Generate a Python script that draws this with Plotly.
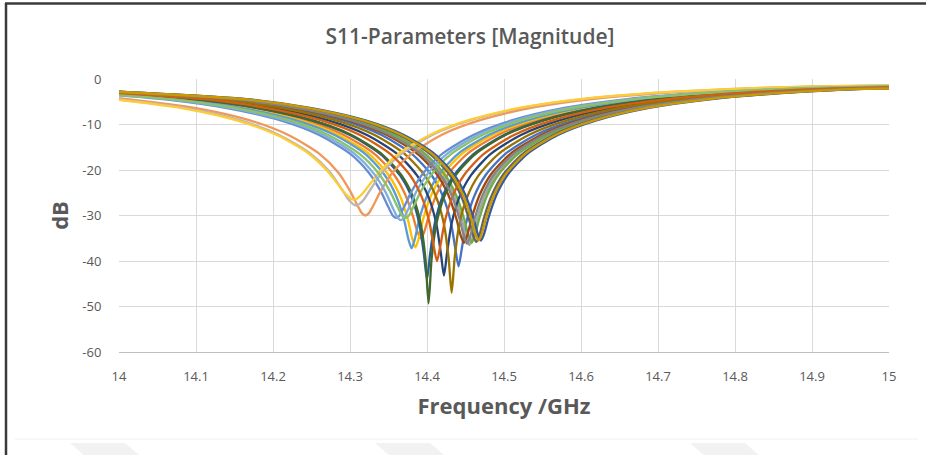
import plotly.graph_objects as go

# ---------------- data (frequency in GHz, S11 in dB) ----------------
f_01 = [14.0, 14.141, 14.221, 14.291, 14.341, 14.381, 14.406, 14.421, 14.431, 14.437, 14.441, 14.445, 14.451, 14.461, 14.476, 14.501, 14.541, 14.591, 14.661, 14.741, 14.841, 14.941, 15.0]
db_01 = [-2.95, -4.5, -6.4, -9.1, -12.3, -16.55, -21.15, -25.9, -31.5, -37.5, -41.2, -37.5, -31.5, -25.9, -21.15, -16.55, -12.3, -9.1, -6.3, -4.4, -3.0, -2.15, -1.95]

f_02 = [14.0, 14.092, 14.172, 14.242, 14.292, 14.332, 14.357, 14.372, 14.382, 14.388, 14.392, 14.396, 14.402, 14.412, 14.427, 14.452, 14.492, 14.542, 14.612, 14.692, 14.792, 14.892, 15.0]
db_02 = [-3.3, -4.5, -6.4, -9.1, -12.3, -16.5, -21.0, -25.5, -30.3, -33.8, -35.0, -33.8, -30.3, -25.5, -21.0, -16.5, -12.3, -9.1, -6.3, -4.4, -3.0, -2.15, -1.6]

f_03 = [14.0, 14.155, 14.235, 14.305, 14.355, 14.395, 14.42, 14.435, 14.445, 14.451, 14.455, 14.459, 14.465, 14.475, 14.49, 14.515, 14.555, 14.605, 14.675, 14.755, 14.855, 14.955, 15.0]
db_03 = [-2.85, -4.5, -6.4, -9.1, -12.3, -16.5, -21.05, -25.65, -30.7, -34.8, -36.5, -34.8, -30.7, -25.65, -21.05, -16.5, -12.3, -9.1, -6.3, -4.4, -3.0, -2.15, -2.0]

f_04 = [14.0, 14.085, 14.165, 14.235, 14.285, 14.325, 14.35, 14.365, 14.375, 14.381, 14.385, 14.389, 14.395, 14.405, 14.42, 14.445, 14.485, 14.535, 14.605, 14.685, 14.785, 14.885, 15.0]
db_04 = [-3.35, -4.5, -6.4, -9.1, -12.3, -16.5, -21.1, -25.7, -30.8, -35.2, -37.0, -35.2, -30.8, -25.7, -21.1, -16.5, -12.3, -9.1, -6.3, -4.4, -3.0, -2.15, -1.6]

f_05 = [14.0, 14.08, 14.16, 14.23, 14.28, 14.32, 14.345, 14.36, 14.37, 14.376, 14.38, 14.384, 14.39, 14.4, 14.415, 14.44, 14.48, 14.53, 14.6, 14.68, 14.78, 14.88, 15.0]
db_05 = [-3.4, -4.5, -6.4, -9.1, -12.3, -16.5, -21.1, -25.7, -30.8, -35.3, -37.2, -35.3, -30.8, -25.7, -21.1, -16.5, -12.3, -9.1, -6.3, -4.4, -3.0, -2.15, -1.6]

f_06 = [14.0, 14.158, 14.238, 14.308, 14.358, 14.398, 14.423, 14.438, 14.448, 14.454, 14.458, 14.462, 14.468, 14.478, 14.493, 14.518, 14.558, 14.608, 14.678, 14.758, 14.858, 14.958, 15.0]
db_06 = [-2.85, -4.5, -6.4, -9.1, -12.3, -16.5, -21.0, -25.6, -30.6, -34.5, -36.0, -34.5, -30.6, -25.6, -21.0, -16.5, -12.3, -9.1, -6.3, -4.4, -3.0, -2.15, -2.05]

f_07 = [14.0, 14.122, 14.202, 14.272, 14.322, 14.362, 14.387, 14.402, 14.412, 14.418, 14.422, 14.426, 14.432, 14.442, 14.457, 14.482, 14.522, 14.572, 14.642, 14.722, 14.822, 14.922, 15.0]
db_07 = [-3.05, -4.5, -6.4, -9.1, -12.3, -16.55, -21.2, -25.95, -31.7, -38.3, -43.2, -38.3, -31.7, -25.95, -21.2, -16.55, -12.3, -9.1, -6.3, -4.4, -3.0, -2.15, -1.85]

f_08 = [14.0, 14.148, 14.228, 14.298, 14.348, 14.388, 14.413, 14.428, 14.438, 14.444, 14.448, 14.452, 14.458, 14.468, 14.483, 14.508, 14.548, 14.598, 14.668, 14.748, 14.848, 14.948, 15.0]
db_08 = [-2.9, -4.5, -6.4, -9.1, -12.3, -16.5, -21.0, -25.6, -30.6, -34.5, -36.0, -34.5, -30.6, -25.6, -21.0, -16.5, -12.3, -9.1, -6.3, -4.4, -3.0, -2.15, -1.95]

f_09 = [14.0, 14.164, 14.244, 14.314, 14.364, 14.404, 14.429, 14.444, 14.454, 14.46, 14.464, 14.468, 14.474, 14.484, 14.499, 14.524, 14.564, 14.614, 14.684, 14.764, 14.864, 14.964, 15.0]
db_09 = [-2.8, -4.5, -6.4, -9.1, -12.3, -16.5, -21.0, -25.6, -30.5, -34.4, -35.8, -34.4, -30.5, -25.6, -21.0, -16.5, -12.3, -9.1, -6.3, -4.4, -3.0, -2.15, -2.05]

f_10 = [14.0, 14.132, 14.212, 14.282, 14.332, 14.372, 14.397, 14.412, 14.422, 14.428, 14.432, 14.436, 14.442, 14.452, 14.467, 14.492, 14.532, 14.582, 14.652, 14.732, 14.832, 14.932, 15.0]
db_10 = [-3.0, -4.5, -6.4, -9.1, -12.3, -16.6, -21.2, -26.0, -31.9, -39.2, -47.0, -39.2, -31.9, -26.0, -21.2, -16.6, -12.3, -9.1, -6.3, -4.4, -3.0, -2.15, -1.9]

f_11 = [14.0, 14.1, 14.18, 14.25, 14.3, 14.34, 14.365, 14.38, 14.39, 14.396, 14.4, 14.404, 14.41, 14.42, 14.435, 14.46, 14.5, 14.55, 14.62, 14.7, 14.8, 14.9, 15.0]
db_11 = [-3.2, -4.5, -6.4, -9.1, -12.3, -16.55, -21.2, -25.95, -31.8, -38.5, -44.0, -38.5, -31.8, -25.95, -21.2, -16.55, -12.3, -9.1, -6.3, -4.4, -3.0, -2.15, -1.75]

f_12 = [14.0, 14.102, 14.182, 14.252, 14.302, 14.342, 14.367, 14.382, 14.392, 14.398, 14.402, 14.406, 14.412, 14.422, 14.437, 14.462, 14.502, 14.552, 14.622, 14.702, 14.802, 14.902, 15.0]
db_12 = [-3.2, -4.5, -6.4, -9.1, -12.3, -16.6, -21.2, -26.0, -32.0, -39.5, -49.3, -39.5, -32.0, -26.0, -21.2, -16.6, -12.3, -9.1, -6.3, -4.4, -3.0, -2.15, -1.75]

f_13 = [14.0, 14.06, 14.14, 14.21, 14.26, 14.3, 14.325, 14.34, 14.35, 14.356, 14.36, 14.364, 14.37, 14.38, 14.395, 14.42, 14.46, 14.51, 14.58, 14.66, 14.76, 14.86, 15.0]
db_13 = [-3.6, -4.5, -6.4, -9.1, -12.3, -16.4, -20.7, -24.7, -28.2, -30.1, -30.5, -30.1, -28.2, -24.7, -20.7, -16.4, -12.3, -9.1, -6.3, -4.4, -3.0, -2.15, -1.55]

f_14 = [14.0, 14.1, 14.17, 14.22, 14.26, 14.285, 14.3, 14.31, 14.316, 14.32, 14.324, 14.33, 14.34, 14.355, 14.38, 14.42, 14.47, 14.54, 14.62, 14.72, 14.82, 14.92, 15.0]
db_14 = [-4.2, -6.4, -9.1, -12.3, -16.4, -20.6, -24.6, -27.9, -29.6, -30.0, -29.6, -27.9, -24.6, -20.6, -16.4, -12.2, -9.0, -6.2, -4.3, -2.95, -2.1, -1.6, -1.5]

f_15 = [14.0, 14.088, 14.158, 14.208, 14.248, 14.273, 14.288, 14.298, 14.304, 14.308, 14.312, 14.318, 14.328, 14.343, 14.368, 14.408, 14.458, 14.528, 14.608, 14.708, 14.808, 14.908, 15.0]
db_15 = [-4.5, -6.4, -9.1, -12.3, -16.3, -20.3, -23.9, -26.5, -27.5, -27.8, -27.5, -26.5, -23.9, -20.3, -16.3, -12.2, -9.0, -6.2, -4.3, -2.95, -2.1, -1.6, -1.42]

f_16 = [14.0, 14.085, 14.155, 14.205, 14.245, 14.27, 14.285, 14.295, 14.301, 14.305, 14.309, 14.315, 14.325, 14.34, 14.365, 14.405, 14.455, 14.525, 14.605, 14.705, 14.805, 14.905, 15.0]
db_16 = [-4.6, -6.5, -9.2, -12.3, -16.2, -20.1, -23.3, -25.4, -26.3, -26.5, -26.3, -25.4, -23.3, -20.1, -16.2, -12.2, -9.0, -6.2, -4.3, -2.95, -2.1, -1.6, -1.4]

f_17 = [14.0, 14.066, 14.146, 14.216, 14.266, 14.306, 14.331, 14.346, 14.356, 14.362, 14.366, 14.37, 14.376, 14.386, 14.401, 14.426, 14.466, 14.516, 14.586, 14.666, 14.766, 14.866, 15.0]
db_17 = [-3.55, -4.5, -6.4, -9.1, -12.3, -16.45, -20.8, -24.8, -28.5, -30.5, -31.0, -30.5, -28.5, -24.8, -20.8, -16.45, -12.3, -9.1, -6.3, -4.4, -3.0, -2.15, -1.58]

f_18 = [14.0, 14.072, 14.152, 14.222, 14.272, 14.312, 14.337, 14.352, 14.362, 14.368, 14.372, 14.376, 14.382, 14.392, 14.407, 14.432, 14.472, 14.522, 14.592, 14.672, 14.772, 14.872, 15.0]
db_18 = [-3.5, -4.5, -6.4, -9.1, -12.3, -16.4, -20.7, -24.7, -28.2, -30.1, -30.5, -30.1, -28.2, -24.7, -20.7, -16.4, -12.3, -9.1, -6.3, -4.4, -3.0, -2.15, -1.6]

f_19 = [14.0, 14.17, 14.25, 14.32, 14.37, 14.41, 14.435, 14.45, 14.46, 14.466, 14.47, 14.474, 14.48, 14.49, 14.505, 14.53, 14.57, 14.62, 14.69, 14.77, 14.87, 14.97, 15.0]
db_19 = [-2.8, -4.5, -6.4, -9.1, -12.3, -16.5, -21.0, -25.55, -30.4, -34.1, -35.5, -34.1, -30.4, -25.55, -21.0, -16.5, -12.3, -9.1, -6.3, -4.4, -3.0, -2.15, -2.1]

f_20 = [14.0, 14.113, 14.193, 14.263, 14.313, 14.353, 14.378, 14.393, 14.403, 14.409, 14.413, 14.417, 14.423, 14.433, 14.448, 14.473, 14.513, 14.563, 14.633, 14.713, 14.813, 14.913, 15.0]
db_20 = [-3.1, -4.5, -6.4, -9.1, -12.3, -16.55, -21.15, -25.85, -31.4, -37.0, -40.0, -37.0, -31.4, -25.85, -21.15, -16.55, -12.3, -9.1, -6.3, -4.4, -3.0, -2.15, -1.8]

f_21 = [14.0, 14.152, 14.232, 14.302, 14.352, 14.392, 14.417, 14.432, 14.442, 14.448, 14.452, 14.456, 14.462, 14.472, 14.487, 14.512, 14.552, 14.602, 14.672, 14.752, 14.852, 14.952, 15.0]
db_21 = [-2.9, -4.5, -6.4, -9.1, -12.3, -16.5, -21.0, -25.6, -30.6, -34.6, -36.2, -34.6, -30.6, -25.6, -21.0, -16.5, -12.3, -9.1, -6.3, -4.4, -3.0, -2.15, -2.0]

f_22 = [14.0, 14.167, 14.247, 14.317, 14.367, 14.407, 14.432, 14.447, 14.457, 14.463, 14.467, 14.471, 14.477, 14.487, 14.502, 14.527, 14.567, 14.617, 14.687, 14.767, 14.867, 14.967, 15.0]
db_22 = [-2.8, -4.5, -6.4, -9.1, -12.3, -16.5, -21.0, -25.55, -30.4, -34.1, -35.5, -34.1, -30.4, -25.55, -21.0, -16.5, -12.3, -9.1, -6.3, -4.4, -3.0, -2.15, -2.1]

freqs = [f_01, f_02, f_03, f_04, f_05, f_06, f_07, f_08, f_09, f_10, f_11,
         f_12, f_13, f_14, f_15, f_16, f_17, f_18, f_19, f_20, f_21, f_22]
dbs = [db_01, db_02, db_03, db_04, db_05, db_06, db_07, db_08, db_09, db_10, db_11,
       db_12, db_13, db_14, db_15, db_16, db_17, db_18, db_19, db_20, db_21, db_22]

colors = ["#4472C4", "#ED7D31", "#A5A5A5", "#FFC000", "#5B9BD5", "#70AD47",
          "#264478", "#9E480E", "#636363", "#997300", "#255E91", "#43682B",
          "#698ED0", "#F1975A", "#B7B7B7", "#FFCD33", "#7CAFDD", "#8CC168",
          "#335AA1", "#D26012", "#848484", "#CC9A00"]

x_ticks = [14.0, 14.1, 14.2, 14.3, 14.4, 14.5, 14.6, 14.7, 14.8, 14.9, 15.0]
x_tick_labels = ["14", "14.1", "14.2", "14.3", "14.4", "14.5", "14.6", "14.7", "14.8", "14.9", "15"]
y_ticks = [0, -10, -20, -30, -40, -50, -60]
y_tick_labels = ["0", "-10", "-20", "-30", "-40", "-50", "-60"]

# ---------------- figure ----------------
fig = go.Figure()
for i, (fx, fy) in enumerate(zip(freqs, dbs)):
    fig.add_trace(go.Scatter(
        x=fx, y=fy, mode="lines",
        line=dict(color=colors[i], width=2.3, shape="spline", smoothing=0.7),
        name=f"S11 {i + 1}", showlegend=False, hoverinfo="x+y"))

L, R, T, B = 119, 37, 79, 103
W, H = 926, 455
pw, ph = W - L - R, H - T - B


def px(xpix):
    return (xpix - L) / pw


def py(ypix):
    return (H - B - ypix) / ph


grey_txt = "#595959"
shapes = [
    # outer frame (left and top dark lines of the screenshot)
    dict(type="line", xref="paper", yref="paper", x0=px(6), x1=px(6), y0=py(3), y1=py(H + 2),
         line=dict(color="#3A3A3A", width=2.5), layer="above"),
    dict(type="line", xref="paper", yref="paper", x0=px(5), x1=px(W + 2), y0=py(3.5), y1=py(3.5),
         line=dict(color="#3A3A3A", width=2.5), layer="above"),
    # faint chart-area border bottom
    dict(type="line", xref="paper", yref="paper", x0=px(15), x1=px(W - 8), y0=py(439), y1=py(439),
         line=dict(color="#F0F0F0", width=1), layer="below"),
]
# faint watermark bands at the bottom
for xa in [70, 375, 690]:
    shapes.append(dict(
        type="path", xref="paper", yref="paper", layer="below",
        path=(f"M {px(xa)} {py(443)} L {px(xa + 55)} {py(443)} "
              f"L {px(xa + 70)} {py(456)} L {px(xa + 15)} {py(456)} Z"),
        fillcolor="#F2F2F2", line=dict(width=0)))

fig.update_layout(
    width=W, height=H,
    margin=dict(l=L, r=R, t=T, b=B, autoexpand=False),
    paper_bgcolor="white", plot_bgcolor="white",
    font=dict(family="Open Sans, Lato, sans-serif", color=grey_txt, size=13),
    title=dict(text="S11-Parameters [Magnitude]", xref="container", x=470 / W, xanchor="center",
               yref="container", y=1 - 37 / H, yanchor="middle",
               font=dict(family="Open Sans", size=21, color=grey_txt, weight=600)),
    xaxis=dict(range=[14.0, 15.0], tickvals=x_ticks, ticktext=x_tick_labels,
               showgrid=True, gridcolor="#D9D9D9", gridwidth=1,
               zeroline=False, showline=True, linecolor="#BFBFBF", linewidth=1,
               ticks="outside", ticklen=12, tickcolor="rgba(0,0,0,0)",
               tickfont=dict(size=13, color=grey_txt),
               title=dict(text="Frequency /GHz", standoff=15,
                          font=dict(family="Open Sans", size=22, color=grey_txt, weight=700))),
    yaxis=dict(range=[-60, 0], tickvals=y_ticks, ticktext=y_tick_labels,
               showgrid=True, gridcolor="#D9D9D9", gridwidth=1,
               zeroline=False, showline=False,
               ticks="outside", ticklen=14, tickcolor="rgba(0,0,0,0)",
               tickfont=dict(size=13, color=grey_txt),
               title=dict(text="dB", standoff=7,
                          font=dict(family="Open Sans", size=22, color=grey_txt, weight=700))),
    shapes=shapes,
)

fig.write_html("out.html")
